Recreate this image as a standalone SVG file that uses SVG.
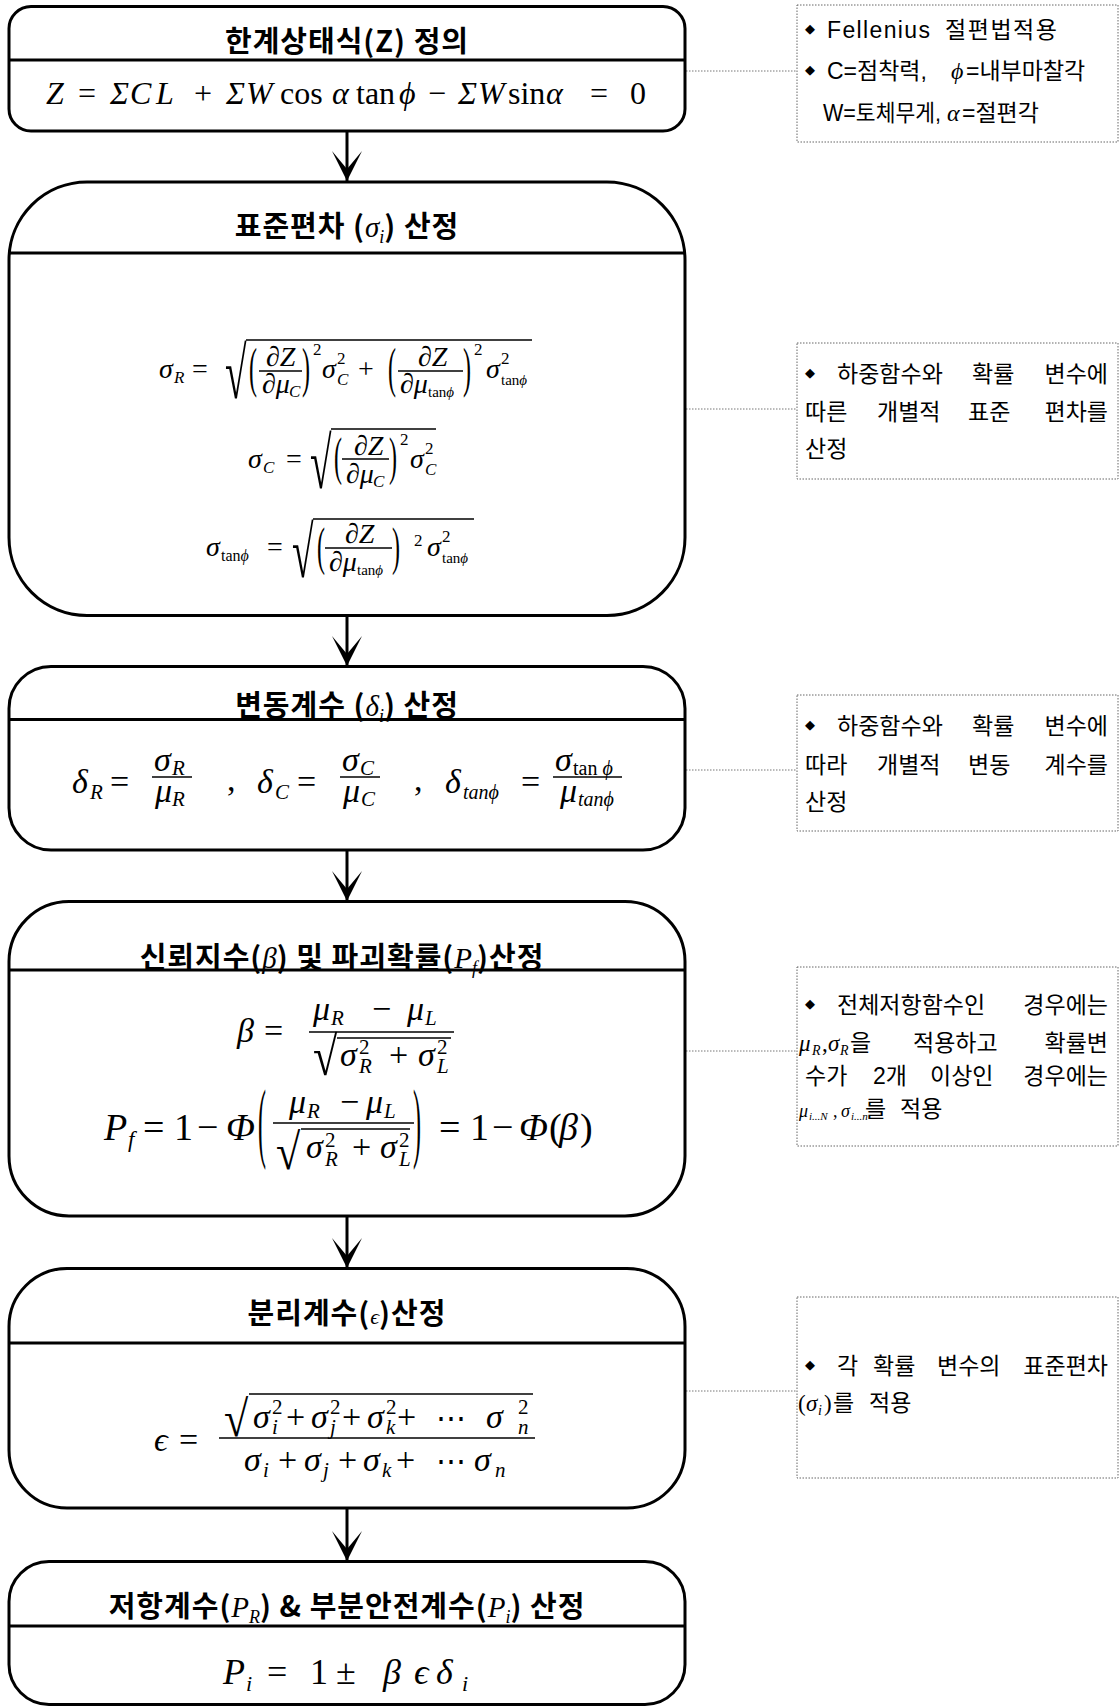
<svg xmlns="http://www.w3.org/2000/svg" width="1120" height="1708" viewBox="0 0 1120 1708">
<defs>
<style>
.box{fill:#fff;stroke:#000;stroke-width:3}
.dv{stroke:#000;stroke-width:3}
.note{fill:#fff;stroke:#666;stroke-width:1;stroke-dasharray:1.5 1.5}
.dot{stroke:#777;stroke-width:1;stroke-dasharray:1.5 1.5;fill:none}
.arr{stroke:#000;stroke-width:3;fill:none;marker-end:url(#ah)}
.bar{stroke:#000;stroke-width:1.6}
.vin{stroke:#000;stroke-width:1.6}
.t{font-family:"Noto Sans CJK KR","Liberation Sans",sans-serif;font-weight:bold;font-size:29px;letter-spacing:1px;fill:#000}
.mi{font-family:"Liberation Serif","DejaVu Serif",serif;font-style:italic;font-weight:normal;letter-spacing:0}
.mr{font-family:"Liberation Serif","DejaVu Serif",serif;font-style:normal;font-weight:normal;letter-spacing:0}
.nt{font-family:"Liberation Sans","Noto Sans CJK KR",sans-serif;font-size:23px;fill:#000}
.bl{font-family:"DejaVu Sans",sans-serif;font-size:13px}
</style>
<marker id="ah" viewBox="-31 -16 32 32" refX="0" refY="0" markerWidth="32" markerHeight="32" markerUnits="userSpaceOnUse" orient="auto">
<path d="M0,0 L-30,-15 L-12,0 L-30,15 Z" fill="#000"/>
</marker>
</defs>
<rect width="1120" height="1708" fill="#fff"/>

<g id="connectors">
<line class="arr" x1="347" y1="131" x2="347" y2="181"/>
<line class="arr" x1="347" y1="615.5" x2="347" y2="666"/>
<line class="arr" x1="347" y1="850" x2="347" y2="901"/>
<line class="arr" x1="347" y1="1216" x2="347" y2="1268"/>
<line class="arr" x1="347" y1="1508" x2="347" y2="1561"/>
<line class="dot" x1="686" y1="71" x2="797" y2="71"/>
<line class="dot" x1="686" y1="409" x2="797" y2="409"/>
<line class="dot" x1="686" y1="770" x2="797" y2="770"/>
<line class="dot" x1="686" y1="1051" x2="797" y2="1051"/>
<line class="dot" x1="686" y1="1391" x2="797" y2="1391"/>
</g>

<g id="node1">
<rect class="box" x="9" y="6.5" width="676" height="124.5" rx="22"/>
<line class="dv" x1="9" y1="60" x2="685" y2="60"/>
<text class="t" x="347" y="52" text-anchor="middle">한계상태식(Z) 정의</text>
<g font-size="32">
<text class="mi" x="46" y="104">Z</text>
<text class="mr" x="78" y="104">=</text>
<text class="mi" x="110" y="104">Σ</text>
<text class="mi" x="130" y="104">C</text>
<text class="mi" x="156" y="104">L</text>
<text class="mr" x="194" y="104">+</text>
<text class="mi" x="226" y="104">Σ</text>
<text class="mi" x="246" y="104">W</text>
<text class="mr" x="280" y="104">cos</text>
<text class="mi" x="332" y="104">α</text>
<text class="mr" x="356" y="104">tan</text>
<text class="mi" x="399" y="104">ϕ</text>
<text class="mr" x="428" y="104">−</text>
<text class="mi" x="458" y="104">Σ</text>
<text class="mi" x="478" y="104">W</text>
<text class="mr" x="508" y="104">sin</text>
<text class="mi" x="546" y="104">α</text>
<text class="mr" x="590" y="104">=</text>
<text class="mr" x="630" y="104">0</text>
</g>
</g>

<g id="node2">
<rect class="box" x="9" y="182" width="676" height="433.5" rx="78"/>
<line class="dv" x1="9" y1="253" x2="685" y2="253"/>
<text class="t" x="347" y="237" text-anchor="middle">표준편차 (<tspan class="mi">σ</tspan><tspan class="mi" font-size="18" dy="6">i</tspan><tspan dy="-6">) 산정</tspan></text>
<g font-size="28">
<text class="mi" x="159" y="378">σ</text><text class="mi" x="174" y="383" font-size="17">R</text>
<text class="mr" x="192" y="378">=</text>
<text class="mr" transform="translate(225,398) scale(1.4,2.6)">√</text>
<line class="vin" x1="246" y1="340" x2="532" y2="340"/>
<text class="mr" font-size="24" transform="translate(249,386) scale(1,2.3)">(</text>
<text class="mi" x="266" y="366">∂Z</text>
<line class="bar" x1="259" y1="371" x2="302" y2="371"/>
<text class="mi" x="262" y="393">∂μ</text><text class="mi" x="289" y="397" font-size="17">C</text>
<text class="mr" font-size="24" transform="translate(302,386) scale(1,2.3)">)</text>
<text class="mr" x="313" y="355" font-size="17">2</text>
<text class="mi" x="322" y="378">σ</text><text class="mr" x="337" y="364" font-size="17">2</text><text class="mi" x="337" y="385" font-size="17">C</text>
<text class="mr" x="358" y="378">+</text>
<text class="mr" font-size="24" transform="translate(388,386) scale(1,2.3)">(</text>
<text class="mi" x="418" y="366">∂Z</text>
<line class="bar" x1="398" y1="371" x2="463" y2="371"/>
<text class="mi" x="400" y="393">∂μ</text><text x="428" y="397" font-size="15"><tspan class="mr">tan</tspan><tspan class="mi">ϕ</tspan></text>
<text class="mr" font-size="24" transform="translate(463,386) scale(1,2.3)">)</text>
<text class="mr" x="474" y="355" font-size="17">2</text>
<text class="mi" x="486" y="378">σ</text><text class="mr" x="501" y="364" font-size="17">2</text><text x="501" y="385" font-size="15"><tspan class="mr">tan</tspan><tspan class="mi">ϕ</tspan></text>

<text class="mi" x="248" y="468">σ</text><text class="mi" x="263" y="473" font-size="17">C</text>
<text class="mr" x="286" y="468">=</text>
<text class="mr" transform="translate(310,488) scale(1.4,2.6)">√</text>
<line class="vin" x1="331" y1="429" x2="436" y2="429"/>
<text class="mr" font-size="24" transform="translate(334,474) scale(1,2.2)">(</text>
<text class="mi" x="354" y="455">∂Z</text>
<line class="bar" x1="342" y1="459" x2="389" y2="459"/>
<text class="mi" x="346" y="483">∂μ</text><text class="mi" x="373" y="487" font-size="17">C</text>
<text class="mr" font-size="24" transform="translate(389,474) scale(1,2.2)">)</text>
<text class="mr" x="400" y="445" font-size="17">2</text>
<text class="mi" x="410" y="468">σ</text><text class="mr" x="425" y="454" font-size="17">2</text><text class="mi" x="425" y="475" font-size="17">C</text>

<text class="mi" x="206" y="556">σ</text><text x="221" y="561" font-size="16"><tspan class="mr">tan</tspan><tspan class="mi">ϕ</tspan></text>
<text class="mr" x="267" y="556">=</text>
<text class="mr" transform="translate(292,577) scale(1.4,2.6)">√</text>
<line class="vin" x1="313" y1="519" x2="474" y2="519"/>
<text class="mr" font-size="24" transform="translate(317,564) scale(1,2.2)">(</text>
<text class="mi" x="345" y="543">∂Z</text>
<line class="bar" x1="325" y1="548" x2="392" y2="548"/>
<text class="mi" x="329" y="571">∂μ</text><text x="357" y="575" font-size="15"><tspan class="mr">tan</tspan><tspan class="mi">ϕ</tspan></text>
<text class="mr" font-size="24" transform="translate(392,564) scale(1,2.2)">)</text>
<text class="mr" x="414" y="546" font-size="17">2</text>
<text class="mi" x="427" y="556">σ</text><text class="mr" x="442" y="542" font-size="17">2</text><text x="442" y="563" font-size="15"><tspan class="mr">tan</tspan><tspan class="mi">ϕ</tspan></text>
</g>
</g>

<g id="node3">
<rect class="box" x="9" y="666.5" width="676" height="183.5" rx="42"/>
<line class="dv" x1="9" y1="719.5" x2="685" y2="719.5"/>
<text class="t" x="347" y="716" text-anchor="middle">변동계수 (<tspan class="mi">δ</tspan><tspan class="mi" font-size="18" dy="6">i</tspan><tspan dy="-6">) 산정</tspan></text>
<g font-size="34">
<text class="mi" x="72" y="793">δ</text><text class="mi" x="90" y="799" font-size="21">R</text>
<text class="mr" x="110" y="793">=</text>
<text class="mi" x="154" y="771">σ</text><text class="mi" x="172" y="775" font-size="21">R</text>
<line class="bar" x1="152" y1="777" x2="192" y2="777"/>
<text class="mi" x="155" y="802">μ</text><text class="mi" x="172" y="806" font-size="21">R</text>
<text class="mr" x="227" y="791">,</text>
<text class="mi" x="257" y="793">δ</text><text class="mi" x="275" y="799" font-size="21">C</text>
<text class="mr" x="297" y="793">=</text>
<text class="mi" x="342" y="771">σ</text><text class="mi" x="360" y="775" font-size="21">C</text>
<line class="bar" x1="340" y1="777" x2="380" y2="777"/>
<text class="mi" x="343" y="802">μ</text><text class="mi" x="361" y="806" font-size="21">C</text>
<text class="mr" x="414" y="791">,</text>
<text class="mi" x="445" y="793">δ</text><text class="mi" x="463" y="799" font-size="20">tanϕ</text>
<text class="mr" x="521" y="793">=</text>
<text class="mi" x="555" y="771">σ</text><text x="573" y="775" font-size="20"><tspan class="mr">tan </tspan><tspan class="mi">ϕ</tspan></text>
<line class="bar" x1="553" y1="777" x2="622" y2="777"/>
<text class="mi" x="560" y="802">μ</text><text class="mi" x="578" y="806" font-size="20">tanϕ</text>
</g>
</g>

<g id="node4">
<rect class="box" x="9" y="901.5" width="676" height="314.5" rx="60"/>
<line class="dv" x1="9" y1="970" x2="685" y2="970"/>
<text class="t" x="342" y="968" text-anchor="middle">신뢰지수(<tspan class="mi">β</tspan>) 및 파괴확률(<tspan class="mi">P</tspan><tspan class="mi" font-size="18" dy="6">f</tspan><tspan dy="-6">)산정</tspan></text>
<g font-size="34">
<text class="mi" x="237" y="1042">β</text>
<text class="mr" x="264" y="1042">=</text>
<text class="mi" x="313" y="1020">μ</text><text class="mi" x="331" y="1025" font-size="21">R</text>
<text class="mr" x="372" y="1020">−</text>
<text class="mi" x="407" y="1020">μ</text><text class="mi" x="425" y="1025" font-size="21">L</text>
<line class="bar" x1="309" y1="1032" x2="454" y2="1032"/>
<text class="mr" transform="translate(313,1075) scale(1.3,1.6)">√</text>
<line class="vin" x1="337" y1="1038" x2="451" y2="1038"/>
<text class="mi" x="340" y="1066">σ</text><text class="mr" x="359" y="1054" font-size="21">2</text><text class="mi" x="359" y="1073" font-size="21">R</text>
<text class="mr" x="389" y="1066">+</text>
<text class="mi" x="418" y="1066">σ</text><text class="mr" x="437" y="1054" font-size="21">2</text><text class="mi" x="437" y="1073" font-size="21">L</text>
</g>
<g font-size="38">
<text class="mi" x="104" y="1140">P</text><text class="mi" x="128" y="1147" font-size="23">f</text>
<text class="mr" x="143" y="1140">=</text>
<text class="mr" x="174" y="1140">1</text>
<text class="mr" x="197" y="1140">−</text>
<text class="mi" x="226" y="1140">Φ</text>
<text class="mr" transform="translate(258,1151) scale(1,3.7)" font-size="24">(</text>
<text class="mi" x="289" y="1113" font-size="34">μ</text><text class="mi" x="307" y="1118" font-size="21">R</text>
<text class="mr" x="340" y="1113" font-size="34">−</text>
<text class="mi" x="366" y="1113" font-size="34">μ</text><text class="mi" x="384" y="1118" font-size="21">L</text>
<line class="bar" x1="273" y1="1123" x2="414" y2="1123"/>
<text class="mr" transform="translate(276,1169) scale(1.3,1.5)" font-size="34">√</text>
<line class="vin" x1="301" y1="1129" x2="410" y2="1129"/>
<text class="mi" x="306" y="1158" font-size="34">σ</text><text class="mr" x="325" y="1147" font-size="21">2</text><text class="mi" x="325" y="1166" font-size="21">R</text>
<text class="mr" x="352" y="1158" font-size="34">+</text>
<text class="mi" x="380" y="1158" font-size="34">σ</text><text class="mr" x="399" y="1147" font-size="21">2</text><text class="mi" x="399" y="1166" font-size="21">L</text>
<text class="mr" transform="translate(413,1151) scale(1,3.7)" font-size="24">)</text>
<text class="mr" x="439" y="1140">=</text>
<text class="mr" x="470" y="1140">1</text>
<text class="mr" x="492" y="1140">−</text>
<text class="mi" x="519" y="1140">Φ</text>
<text class="mr" x="549" y="1140">(</text>
<text class="mi" x="559" y="1140">β</text>
<text class="mr" x="580" y="1140">)</text>
</g>
</g>

<g id="node5">
<rect class="box" x="9" y="1268.5" width="676" height="239.5" rx="58"/>
<line class="dv" x1="9" y1="1343" x2="685" y2="1343"/>
<text class="t" x="347" y="1324" text-anchor="middle">분리계수(<tspan class="mi" font-size="22">ϵ</tspan>)산정</text>
<g font-size="34">
<text class="mi" x="154" y="1451">ϵ</text>
<text class="mr" x="179" y="1451">=</text>
<line class="bar" x1="219" y1="1438" x2="535" y2="1438"/>
<text class="mr" transform="translate(224,1436) scale(1.3,1.5)">√</text>
<line class="vin" x1="249" y1="1394" x2="533" y2="1394"/>
<text class="mi" x="253" y="1428">σ</text><text class="mr" x="272" y="1414" font-size="21">2</text><text class="mi" x="272" y="1434" font-size="21">i</text>
<text class="mr" x="286" y="1428">+</text>
<text class="mi" x="311" y="1428">σ</text><text class="mr" x="330" y="1414" font-size="21">2</text><text class="mi" x="330" y="1434" font-size="21">j</text>
<text class="mr" x="342" y="1428">+</text>
<text class="mi" x="367" y="1428">σ</text><text class="mr" x="386" y="1414" font-size="21">2</text><text class="mi" x="386" y="1434" font-size="21">k</text>
<text class="mr" x="397" y="1428">+</text>
<text class="mr" x="436" y="1428" font-family="DejaVu Sans" font-size="30">⋯</text>
<text class="mi" x="486" y="1428">σ</text><text class="mr" x="518" y="1414" font-size="21">2</text><text class="mi" x="518" y="1434" font-size="21">n</text>
<text class="mi" x="244" y="1471">σ</text><text class="mi" x="263" y="1477" font-size="21">i</text>
<text class="mr" x="278" y="1471">+</text>
<text class="mi" x="304" y="1471">σ</text><text class="mi" x="323" y="1477" font-size="21">j</text>
<text class="mr" x="338" y="1471">+</text>
<text class="mi" x="363" y="1471">σ</text><text class="mi" x="382" y="1477" font-size="21">k</text>
<text class="mr" x="396" y="1471">+</text>
<text class="mr" x="436" y="1471" font-family="DejaVu Sans" font-size="30">⋯</text>
<text class="mi" x="474" y="1471">σ</text><text class="mi" x="495" y="1477" font-size="21">n</text>
</g>
</g>

<g id="node6">
<rect class="box" x="9" y="1561.5" width="676" height="143" rx="40"/>
<line class="dv" x1="9" y1="1626" x2="685" y2="1626"/>
<text class="t" x="347" y="1617" text-anchor="middle">저항계수(<tspan class="mi">P</tspan><tspan class="mi" font-size="18" dy="6">R</tspan><tspan dy="-6">) &amp; 부분안전계수(</tspan><tspan class="mi">P</tspan><tspan class="mi" font-size="18" dy="6">i</tspan><tspan dy="-6">) 산정</tspan></text>
<g font-size="36">
<text class="mi" x="223" y="1684">P</text><text class="mi" x="246" y="1691" font-size="22">i</text>
<text class="mr" x="267" y="1684">=</text>
<text class="mr" x="310" y="1684">1</text>
<text class="mr" x="336" y="1684">±</text>
<text class="mi" x="383" y="1684">β</text>
<text class="mi" x="414" y="1684">ϵ</text>
<text class="mi" x="436" y="1684">δ</text><text class="mi" x="462" y="1691" font-size="22">i</text>
</g>
</g>

<g id="note1">
<rect class="note" x="797" y="5" width="321" height="137"/>
<text class="bl" x="805" y="33">◆</text>
<text class="nt" x="827" y="38" textLength="103" lengthAdjust="spacing">Fellenius</text>
<text class="nt" x="945" y="38" textLength="112" lengthAdjust="spacing">절편법적용</text>
<text class="bl" x="805" y="74">◆</text>
<text class="nt" x="827" y="79">C=점착력,</text>
<text class="mi" x="951" y="79" font-size="24">ϕ</text>
<text class="nt" x="966" y="79">=내부마찰각</text>
<text class="nt" x="823" y="121" textLength="118" lengthAdjust="spacingAndGlyphs">W=토체무게,</text>
<text class="mi" x="947" y="121" font-size="24">α</text>
<text class="nt" x="962" y="121">=절편각</text>
</g>

<g id="note2">
<rect class="note" x="797" y="343" width="321" height="136"/>
<text class="bl" x="805" y="377">◆</text>
<text class="nt" x="837" y="382">하중함수와</text>
<text class="nt" x="972" y="382">확률</text>
<text class="nt" x="1108" y="382" text-anchor="end">변수에</text>
<text class="nt" x="805" y="420">따른</text>
<text class="nt" x="877" y="420">개별적</text>
<text class="nt" x="968" y="420">표준</text>
<text class="nt" x="1108" y="420" text-anchor="end">편차를</text>
<text class="nt" x="805" y="457">산정</text>
</g>

<g id="note3">
<rect class="note" x="797" y="695" width="321" height="136"/>
<text class="bl" x="805" y="729">◆</text>
<text class="nt" x="837" y="734">하중함수와</text>
<text class="nt" x="972" y="734">확률</text>
<text class="nt" x="1108" y="734" text-anchor="end">변수에</text>
<text class="nt" x="805" y="773">따라</text>
<text class="nt" x="877" y="773">개별적</text>
<text class="nt" x="968" y="773">변동</text>
<text class="nt" x="1108" y="773" text-anchor="end">계수를</text>
<text class="nt" x="805" y="810">산정</text>
</g>

<g id="note4">
<rect class="note" x="797" y="967" width="321" height="179"/>
<text class="bl" x="805" y="1008">◆</text>
<text class="nt" x="837" y="1013">전체저항함수인</text>
<text class="nt" x="1108" y="1013" text-anchor="end">경우에는</text>
<text class="mi" x="799" y="1051" font-size="23">μ</text><text class="mi" x="812" y="1055" font-size="14">R</text>
<text class="mr" x="822" y="1051" font-size="23">,</text>
<text class="mi" x="828" y="1051" font-size="23">σ</text><text class="mi" x="840" y="1055" font-size="14">R</text>
<text class="nt" x="850" y="1051">을</text>
<text class="nt" x="913" y="1051">적용하고</text>
<text class="nt" x="1108" y="1051" text-anchor="end">확률변</text>
<text class="nt" x="805" y="1084">수가</text>
<text class="nt" x="873" y="1084">2개</text>
<text class="nt" x="930" y="1084">이상인</text>
<text class="nt" x="1108" y="1084" text-anchor="end">경우에는</text>
<text class="mi" x="799" y="1117" font-size="18">μ</text><text class="mi" x="809" y="1120" font-size="11">i...N</text>
<text class="mr" x="833" y="1117" font-size="18">,</text>
<text class="mi" x="841" y="1117" font-size="18">σ</text><text class="mi" x="851" y="1120" font-size="11">i...n</text>
<text class="nt" x="865" y="1117">를</text>
<text class="nt" x="900" y="1117">적용</text>
</g>

<g id="note5">
<rect class="note" x="797" y="1297" width="321" height="181"/>
<text class="bl" x="805" y="1369">◆</text>
<text class="nt" x="837" y="1374">각</text>
<text class="nt" x="873" y="1374">확률</text>
<text class="nt" x="937" y="1374">변수의</text>
<text class="nt" x="1108" y="1374" text-anchor="end">표준편차</text>
<text class="mr" x="798" y="1411" font-size="23">(</text>
<text class="mi" x="806" y="1411" font-size="23">σ</text><text class="mi" x="818" y="1415" font-size="14">i</text>
<text class="mr" x="824" y="1411" font-size="23">)</text>
<text class="nt" x="833" y="1411">를</text>
<text class="nt" x="869" y="1411">적용</text>
</g>
</svg>
